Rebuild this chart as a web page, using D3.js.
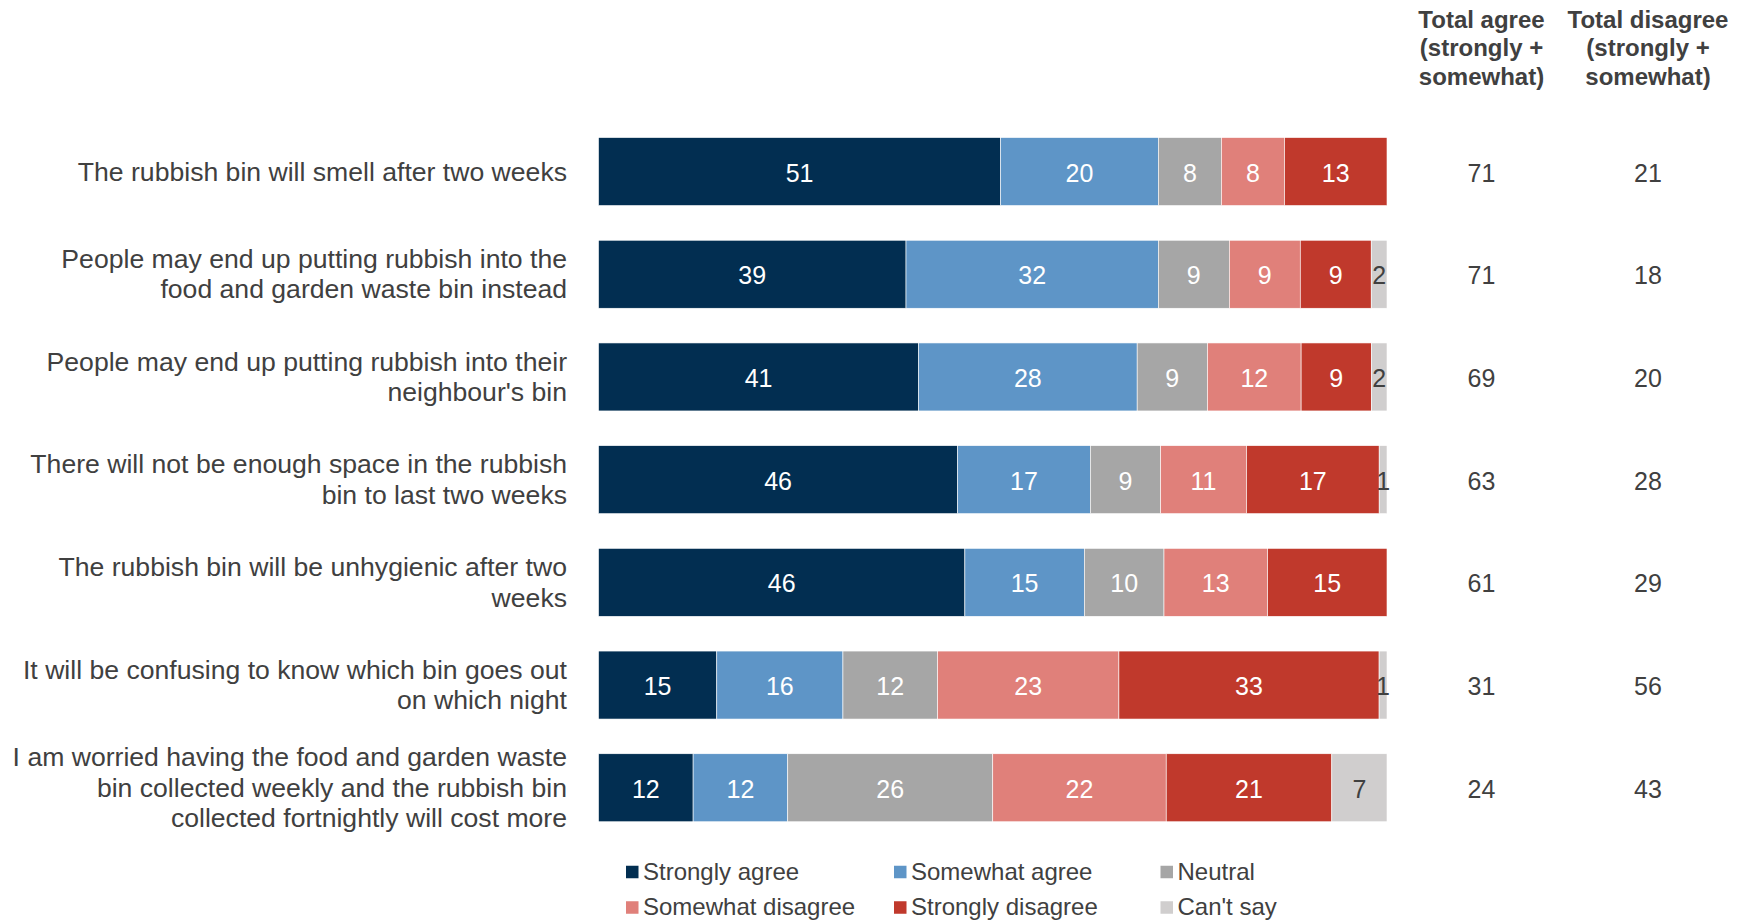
<!DOCTYPE html>
<html>
<head>
<meta charset="utf-8">
<script src="https://cdn.jsdelivr.net/npm/d3@7"></script>
<style>
  html, body { margin: 0; padding: 0; background: #ffffff; }
  svg { display: block; font-family: Arial, "Liberation Sans", sans-serif; }
</style>
</head>
<body>
<svg id="chart" width="1748" height="920"></svg>
<script>
// Survey statements (top to bottom)
const statements = [
  ["The rubbish bin will smell after two weeks"],
  ["People may end up putting rubbish into the", "food and garden waste bin instead"],
  ["People may end up putting rubbish into their", "neighbour's bin"],
  ["There will not be enough space in the rubbish", "bin to last two weeks"],
  ["The rubbish bin will be unhygienic after two", "weeks"],
  ["It will be confusing to know which bin goes out", "on which night"],
  ["I am worried having the food and garden waste", "bin collected weekly and the rubbish bin", "collected fortnightly will cost more"]
];

// Response categories
const responses = ["Strongly agree", "Somewhat agree", "Neutral", "Somewhat disagree", "Strongly disagree", "Can't say"];

// Percentages per response, one value per statement
const stronglyAgree    = [51, 39, 41, 46, 46, 15, 12];
const somewhatAgree    = [20, 32, 28, 17, 15, 16, 12];
const neutral          = [ 8,  9,  9,  9, 10, 12, 26];
const somewhatDisagree = [ 8,  9, 12, 11, 13, 23, 22];
const stronglyDisagree = [13,  9,  9, 17, 15, 33, 21];
const cantSay          = [ 0,  2,  2,  1,  0,  1,  7];

// Net columns
const totalAgree    = [71, 71, 69, 63, 61, 31, 24];
const totalDisagree = [21, 18, 20, 28, 29, 56, 43];

const colours = ["#022e51", "#5e95c7", "#a6a6a6", "#e0807a", "#c0392c", "#d0cece"];
const labelColours = ["#ffffff", "#ffffff", "#ffffff", "#ffffff", "#ffffff", "#404040"];
const textColour = "#404040";

const seriesValues = [stronglyAgree, somewhatAgree, neutral, somewhatDisagree, stronglyDisagree, cantSay];

const rows = statements.map((s, i) => {
  const r = { idx: i };
  responses.forEach((k, j) => { r[k] = seriesValues[j][i]; });
  return r;
});

const svg = d3.select("#chart");

const x = d3.scaleLinear().domain([0, 1]).range([598.5, 1387]);
const y = d3.scaleBand()
  .domain(d3.range(statements.length))
  .range([120.2, 839.1])
  .paddingInner(0.338)
  .paddingOuter(0.169);

const stack = d3.stack().keys(responses).offset(d3.stackOffsetExpand);
const stacked = stack(rows);

const colour = d3.scaleOrdinal().domain(responses).range(colours);
const labelColour = d3.scaleOrdinal().domain(responses).range(labelColours);

// Bars
const layers = svg.append("g").selectAll("g")
  .data(stacked)
  .join("g")
  .attr("fill", d => colour(d.key));

layers.selectAll("rect")
  .data(d => d.filter(p => p.data[d.key] > 0))
  .join("rect")
  .attr("x", p => x(p[0]))
  .attr("y", p => y(p.data.idx))
  .attr("width", p => x(p[1]) - x(p[0]))
  .attr("height", y.bandwidth())
  .attr("stroke", "#ffffff")
  .attr("stroke-width", 0.6);

// Segment value labels
stacked.forEach(layer => {
  svg.append("g").selectAll("text")
    .data(layer.filter(p => p.data[layer.key] > 0))
    .join("text")
    .attr("x", p => (x(p[0]) + x(p[1])) / 2)
    .attr("y", p => y(p.data.idx) + y.bandwidth() / 2)
    .attr("dy", "0.4em")
    .attr("text-anchor", "middle")
    .attr("font-size", 25)
    .attr("fill", labelColour(layer.key))
    .text(p => p.data[layer.key]);
});

// Statement labels
const catG = svg.append("g");
statements.forEach((lines, i) => {
  const lh = 30.4;
  const cy = y(i) + y.bandwidth() / 2;
  const t = catG.append("text")
    .attr("text-anchor", "end")
    .attr("font-size", 26.6)
    .attr("fill", textColour);
  lines.forEach((ln, k) => {
    t.append("tspan")
      .attr("x", 567)
      .attr("y", cy + (k - (lines.length - 1) / 2) * lh)
      .attr("dy", "0.34em")
      .text(ln);
  });
});

// Net columns
const netCols = [
  { x: 1481.5, head: ["Total agree", "(strongly +", "somewhat)"], vals: totalAgree },
  { x: 1648, head: ["Total disagree", "(strongly +", "somewhat)"], vals: totalDisagree }
];
netCols.forEach(col => {
  const h = svg.append("text")
    .attr("text-anchor", "middle")
    .attr("font-size", 24)
    .attr("font-weight", "bold")
    .attr("fill", textColour);
  col.head.forEach((ln, k) => {
    h.append("tspan").attr("x", col.x).attr("y", 19 + k * 28.5).attr("dy", "0.36em").text(ln);
  });
  svg.append("g").selectAll("text")
    .data(col.vals)
    .join("text")
    .attr("x", col.x)
    .attr("y", (d, i) => y(i) + y.bandwidth() / 2)
    .attr("dy", "0.4em")
    .attr("text-anchor", "middle")
    .attr("font-size", 25)
    .attr("fill", textColour)
    .text(d => d);
});

// Legend: two rows of three
const legendX = [626, 894, 1160.5];
const legendY = [872, 907.5];
const legend = svg.append("g").selectAll("g")
  .data(responses)
  .join("g")
  .attr("transform", (d, i) => `translate(${legendX[i % 3]},${legendY[Math.floor(i / 3)]})`);
legend.append("rect")
  .attr("x", 0).attr("y", -6.25)
  .attr("width", 12.5).attr("height", 12.5)
  .attr("fill", d => colour(d));
legend.append("text")
  .attr("x", 17)
  .attr("dy", "0.33em")
  .attr("font-size", 24)
  .attr("fill", textColour)
  .text(d => d);
</script>
</body>
</html>
